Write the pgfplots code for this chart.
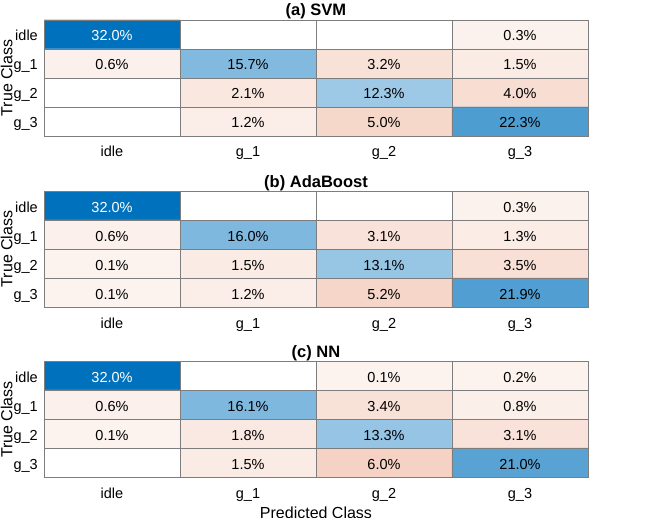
\documentclass[border=0pt]{standalone}
\usepackage{fontspec}
\setmainfont{Liberation Sans}
\usepackage{pgfplots}
\usepackage{pgfplotstable}
\pgfplotsset{compat=1.18}

% x = predicted class, y = true class, v = percent, s = -1 diagonal / 1 off-diagonal
\pgfplotstableread{
x y v s
0 0 32.0 -1
1 0 0 1
2 0 0 1
3 0 0.3 1
0 1 0.6 1
1 1 15.7 -1
2 1 3.2 1
3 1 1.5 1
0 2 0 1
1 2 2.1 1
2 2 12.3 -1
3 2 4.0 1
0 3 0 1
1 3 1.2 1
2 3 5.0 1
3 3 22.3 -1
}\svm
\pgfplotstableread{
x y v s
0 0 32.0 -1
1 0 0 1
2 0 0 1
3 0 0.3 1
0 1 0.6 1
1 1 16.0 -1
2 1 3.1 1
3 1 1.3 1
0 2 0.1 1
1 2 1.5 1
2 2 13.1 -1
3 2 3.5 1
0 3 0.1 1
1 3 1.2 1
2 3 5.2 1
3 3 21.9 -1
}\ada
\pgfplotstableread{
x y v s
0 0 32.0 -1
1 0 0 1
2 0 0.1 1
3 0 0.2 1
0 1 0.6 1
1 1 16.1 -1
2 1 3.4 1
3 1 0.8 1
0 2 0.1 1
1 2 1.8 1
2 2 13.3 -1
3 2 3.1 1
0 3 0 1
1 3 1.5 1
2 3 6.0 1
3 3 21.0 -1
}\nn

\definecolor{gridgray}{RGB}{125,125,125}

\pgfplotsset{
  cmstyle/.style={
    scale only axis, width=544pt, height=116pt,
    anchor=south west,
    xmin=-0.5, xmax=3.5, ymin=-0.5, ymax=3.5,
    y dir=reverse, enlargelimits=false,
    xtick={0,1,2,3}, ytick={0,1,2,3},
    xticklabels={idle,g\_1,g\_2,g\_3},
    yticklabels={idle,g\_1,g\_2,g\_3},
    minor xtick={0.5,1.5,2.5}, minor ytick={0.5,1.5,2.5},
    xminorgrids, yminorgrids,
    minor grid style={gridgray, line width=0.8pt},
    axis line style={gridgray, line width=0.8pt},
    major tick length=0pt, minor tick length=0pt,
    axis on top,
    xticklabel style={anchor=base, inner sep=0pt, yshift=-21pt},
    yticklabel style={anchor=base east, inner sep=0pt, xshift=-6pt, yshift=-6.5pt},
    every axis title/.style={at={(0.5,1)}, anchor=base, inner sep=0pt, yshift=4pt,
      font=\bfseries\fontsize{16.5}{19}\selectfont},
    colormap={cm}{[1pt] rgb255(0pt)=(0,114,189); rgb255(320pt)=(255,255,255);
      rgb255(321pt)=(252,243,239); rgb255(380pt)=(245,210,195); rgb255(640pt)=(217,83,25)},
    point meta min=-32, point meta max=32,
    /pgf/number format/.cd, fixed, fixed zerofill, precision=1, assume math mode=true,
  },
  cells/.style={matrix plot*, mesh/cols=4, point meta={\thisrow{v}*\thisrow{s}}},
  blacklabels/.style={only marks, mark=none, fill=none, point meta=\thisrow{v},
    x filter/.expression={(\thisrow{v}==0 || \thisrow{v}>30) ? nan : x},
    nodes near coords={\pgfmathprintnumber{\pgfplotspointmeta}\%},
    nodes near coords style={anchor=base, inner sep=0pt, yshift=-6.5pt, text=black}},
  whitelabels/.style={only marks, mark=none, fill=none, point meta=\thisrow{v},
    x filter/.expression={(\thisrow{v}>30) ? x : nan},
    nodes near coords={\pgfmathprintnumber{\pgfplotspointmeta}\%},
    nodes near coords style={anchor=base, inner sep=0pt, yshift=-6.5pt, text=white}},
}

\begin{document}
\fontsize{14.5}{17}\selectfont
\begin{tikzpicture}
\useasboundingbox (0,0) rectangle (658pt,517pt);
\clip (0,0) rectangle (658pt,517pt);

\begin{axis}[cmstyle, at={(44pt,381pt)}, title={(a) SVM}]
\addplot[cells] table[x=x, y=y] {\svm};
\addplot[blacklabels] table[x=x, y=y] {\svm};
\addplot[whitelabels] table[x=x, y=y] {\svm};
\end{axis}

\begin{axis}[cmstyle, at={(44pt,210pt)}, title={(b) AdaBoost}]
\addplot[cells] table[x=x, y=y] {\ada};
\addplot[blacklabels] table[x=x, y=y] {\ada};
\addplot[whitelabels] table[x=x, y=y] {\ada};
\end{axis}

\begin{axis}[cmstyle, at={(44pt,40pt)}, title={(c) NN}]
\addplot[cells] table[x=x, y=y] {\nn};
\addplot[blacklabels] table[x=x, y=y] {\nn};
\addplot[whitelabels] table[x=x, y=y] {\nn};
\end{axis}

\begin{scope}[font=\fontsize{16}{19}\selectfont]
\node[rotate=90, anchor=base] at (12.5pt,439pt) {True Class};
\node[rotate=90, anchor=base] at (12.5pt,268pt) {True Class};
\node[rotate=90, anchor=base] at (12.5pt,97.5pt) {True Class};
\node[anchor=base] at (316pt,-1pt) {Predicted Class};
\end{scope}
\end{tikzpicture}
\end{document}
